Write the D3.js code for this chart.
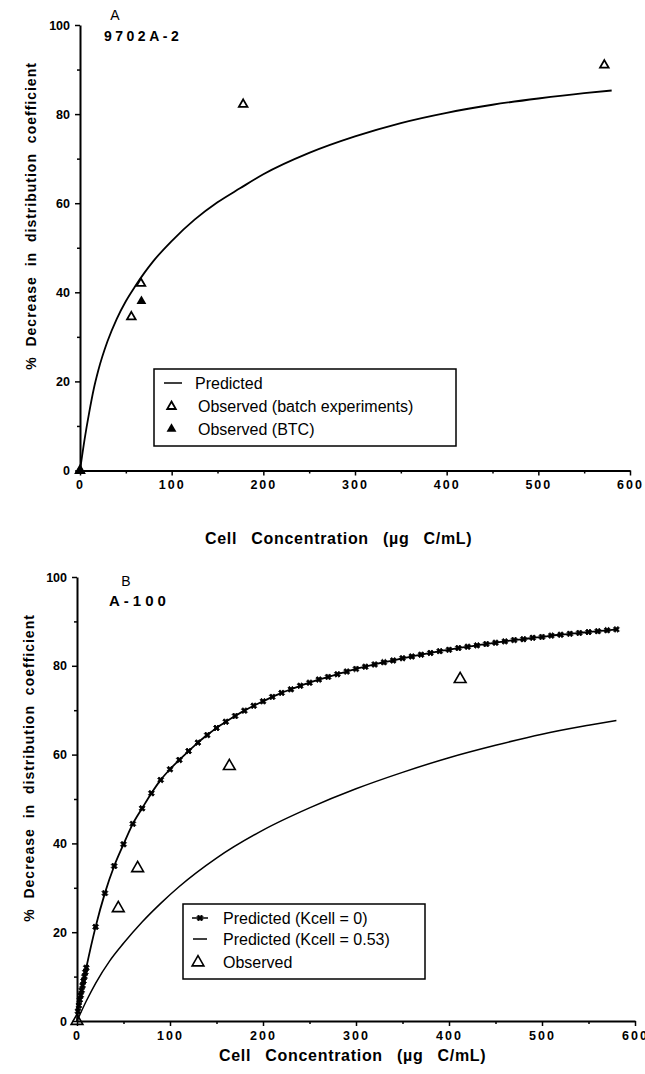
<!DOCTYPE html>
<html>
<head>
<meta charset="utf-8">
<script src="https://cdn.jsdelivr.net/npm/d3@7"></script>
<style>
  body { margin: 0; background: #fff; }
  svg { font-family: "Liberation Sans", Arial, Helvetica, sans-serif; }
</style>
</head>
<body>
<svg id="chart" width="645" height="1074"></svg>
<script>
// ---- data ----

// panel A : 9702A-2
var aPredX = [0, 5, 10, 15, 20, 30, 40, 50, 60, 70, 80, 100, 125, 150, 175, 200, 250, 300, 350, 400, 450, 500, 550, 580];
var aPredY = [0, 7, 13, 18.3, 22.5, 29, 34, 38, 41.3, 44.3, 47, 51.5, 56.3, 60.2, 63.4, 66.5, 71.3, 75, 78, 80.3, 82.1, 83.5, 84.7, 85.3];
var aBatchX = [0, 56, 66.5, 178, 572];
var aBatchY = [0, 34.5, 42, 82.2, 91];
var aBtcX = [0, 67];
var aBtcY = [0, 38];

// panel B : A-100
var bK0X = [1, 2, 3, 4, 5, 6, 7, 8, 9, 10,
            20, 30, 40, 50, 60, 70, 80, 90, 100, 110, 120, 130, 140, 150, 160, 170, 180, 190, 200,
            210, 220, 230, 240, 250, 260, 270, 280, 290, 300, 310, 320, 330, 340, 350, 360, 370, 380, 390, 400,
            410, 420, 430, 440, 450, 460, 470, 480, 490, 500, 510, 520, 530, 540, 550, 560, 570, 580];
var bK0Y = [2.2, 3.5, 4.8, 5.8, 6.9, 8, 9, 10, 11, 12,
            21.2, 28.8, 34.9, 39.8, 44.4, 47.9, 51.3, 54.3, 56.7, 58.8, 60.8, 62.7, 64.4, 66, 67.4, 68.7, 69.9, 71, 72,
            73, 73.9, 74.7, 75.5, 76.2, 76.9, 77.5, 78.1, 78.7, 79.3, 79.8, 80.3, 80.8, 81.2, 81.7, 82.1, 82.5, 82.9, 83.3, 83.6,
            84, 84.3, 84.6, 84.9, 85.2, 85.5, 85.8, 86, 86.3, 86.5, 86.8, 87, 87.2, 87.4, 87.6, 87.8, 88, 88.2];
var bK53X = [0, 10, 20, 35, 50, 70, 90, 110, 150, 200, 250, 300, 350, 400, 450, 500, 550, 580];
var bK53Y = [0, 4.5, 8.5, 13.5, 17.5, 22.3, 26.5, 30.3, 36.7, 43, 48, 52.3, 56, 59.3, 62.1, 64.6, 66.6, 67.7];
var bObsX = [0, 44.4, 65.2, 163.8, 412];
var bObsY = [0, 25.4, 34.4, 57.4, 77];

var yTicks = [0, 20, 40, 60, 80, 100];
var yMinor = [10, 30, 50, 70, 90];
var xTicks = [0, 100, 200, 300, 400, 500, 600];
var xMinor = [50, 150, 250, 350, 450, 550];

var yTitle = "% Decrease in distribution coefficient";
var xTitle = "Cell Concentration (\u00b5g C/mL)";

function zip(xs, ys) {
    return xs.map(function(v, i) { return [v, ys[i]]; });
}

var svg = d3.select("#chart");

function triPath(size) {
    return d3.symbol().type(d3.symbolTriangle).size(size)();
}

function makePanel(p) {
    var g = svg.append("g");
    var x = d3.scaleLinear().domain([0, 600]).range([p.x0, p.x1]);
    var y = d3.scaleLinear().domain([0, 100]).range([p.y0, p.y1]);

    // axes
    var ay = g.append("g").attr("transform", "translate(" + p.x0 + ",0)")
        .call(d3.axisLeft(y).tickValues(yTicks).tickSize(5).tickSizeOuter(0).tickPadding(5));
    g.append("g").attr("transform", "translate(" + p.x0 + ",0)")
        .call(d3.axisLeft(y).tickValues(yMinor).tickSize(3).tickFormat(""))
        .select(".domain").remove();
    var ax = g.append("g").attr("transform", "translate(0," + p.y0 + ")")
        .call(d3.axisBottom(x).tickValues(xTicks).tickSize(5).tickSizeOuter(0).tickPadding(5));
    g.append("g").attr("transform", "translate(0," + p.y0 + ")")
        .call(d3.axisBottom(x).tickValues(xMinor).tickSize(3).tickFormat(""))
        .select(".domain").remove();

    g.selectAll(".domain").attr("stroke", "#000").attr("stroke-width", 2);
    g.selectAll(".tick line").attr("stroke", "#000").attr("stroke-width", 1.5);
    ay.selectAll("text").attr("font-size", 12.5).attr("font-weight", "bold").attr("fill", "#000");
    ax.selectAll("text").attr("font-size", 12.5).attr("font-weight", "bold").attr("fill", "#000")
        .attr("letter-spacing", "2px");

    // axis titles
    g.append("text")
        .attr("transform", "translate(" + p.ytx + "," + p.yty + ") rotate(-90)")
        .attr("text-anchor", "middle")
        .attr("font-size", 14).attr("font-weight", "bold")
        .attr("letter-spacing", "1px").attr("word-spacing", "5px")
        .text(yTitle);
    g.append("text")
        .attr("x", p.xtx).attr("y", p.xty)
        .attr("font-size", 16).attr("font-weight", "bold")
        .attr("letter-spacing", "0.7px").attr("word-spacing", "9px")
        .text(xTitle);

    // panel letters
    g.append("text").attr("x", p.letter[0]).attr("y", p.letter[1])
        .attr("text-anchor", "middle").attr("font-size", 14).text(p.letter[2]);
    g.append("text").attr("x", p.name[0]).attr("y", p.name[1])
        .attr("font-size", p.name[3]).attr("font-weight", "bold")
        .attr("letter-spacing", p.name[4]).text(p.name[2]);

    return {g: g, x: x, y: y};
}

// ---------- panel A ----------
var A = makePanel({
    x0: 80, x1: 630, y0: 470.5, y1: 25,
    ytx: 36, yty: 216, xtx: 205, xty: 544,
    letter: [115, 20, "A"],
    name: [104, 41, "9702A-2", 14, "3.5px"]
});

var line = d3.line().curve(d3.curveMonotoneX);

A.g.append("path")
    .attr("d", line(zip(aPredX, aPredY).map(function(d) { return [A.x(d[0]), A.y(d[1])]; })))
    .attr("fill", "none").attr("stroke", "#000").attr("stroke-width", 1.8);

A.g.selectAll(".batch").data(zip(aBatchX, aBatchY)).enter().append("path")
    .attr("d", triPath(32))
    .attr("transform", function(d) { return "translate(" + A.x(d[0]) + "," + A.y(d[1]) + ")"; })
    .attr("fill", "#fff").attr("stroke", "#000").attr("stroke-width", 1.8);

A.g.selectAll(".btc").data(zip(aBtcX, aBtcY)).enter().append("path")
    .attr("d", triPath(42))
    .attr("transform", function(d) { return "translate(" + A.x(d[0]) + "," + A.y(d[1]) + ")"; })
    .attr("fill", "#000");

// legend A
var legA = A.g.append("g");
legA.append("rect").attr("x", 154).attr("y", 369).attr("width", 302).attr("height", 77)
    .attr("fill", "#fff").attr("stroke", "#000").attr("stroke-width", 1.5);
legA.append("line").attr("x1", 164).attr("x2", 182).attr("y1", 383).attr("y2", 383)
    .attr("stroke", "#000").attr("stroke-width", 1.5);
legA.append("path").attr("d", triPath(32)).attr("transform", "translate(171.5,406.5)")
    .attr("fill", "#fff").attr("stroke", "#000").attr("stroke-width", 1.8);
legA.append("path").attr("d", triPath(42)).attr("transform", "translate(171.5,429)")
    .attr("fill", "#000");
legA.selectAll("text").data(["Predicted", "Observed (batch experiments)", "Observed (BTC)"])
    .enter().append("text")
    .attr("x", function(d, i) { return i === 0 ? 195 : 198; })
    .attr("y", function(d, i) { return [389, 412, 435][i]; })
    .attr("font-size", 16)
    .text(function(d) { return d; });

// ---------- panel B ----------
var B = makePanel({
    x0: 77, x1: 635, y0: 1021, y1: 577,
    ytx: 34, yty: 768, xtx: 219, xty: 1061,
    letter: [126, 586, "B"],
    name: [109, 606, "A-100", 15, "4px"]
});

B.g.append("path")
    .attr("d", line([[0, 0]].concat(zip(bK0X, bK0Y)).map(function(d) { return [B.x(d[0]), B.y(d[1])]; })))
    .attr("fill", "none").attr("stroke", "#000").attr("stroke-width", 1.8);

var crossSym = d3.symbol().type(d3.symbolCross).size(22)();
B.g.selectAll(".k0").data(zip(bK0X, bK0Y)).enter().append("path")
    .attr("d", crossSym)
    .attr("transform", function(d) { return "translate(" + B.x(d[0]) + "," + B.y(d[1]) + ") rotate(45)"; })
    .attr("fill", "#000").attr("stroke", "#000").attr("stroke-width", 0.8);

B.g.append("path")
    .attr("d", line(zip(bK53X, bK53Y).map(function(d) { return [B.x(d[0]), B.y(d[1])]; })))
    .attr("fill", "none").attr("stroke", "#000").attr("stroke-width", 1.5);

B.g.selectAll(".obs").data(zip(bObsX, bObsY)).enter().append("path")
    .attr("d", triPath(60))
    .attr("transform", function(d) { return "translate(" + B.x(d[0]) + "," + B.y(d[1]) + ")"; })
    .attr("fill", "none").attr("stroke", "#000").attr("stroke-width", 1.6);

// legend B
var legB = B.g.append("g");
legB.append("rect").attr("x", 183).attr("y", 904).attr("width", 242).attr("height", 75)
    .attr("fill", "#fff").attr("stroke", "#000").attr("stroke-width", 1.5);
legB.append("line").attr("x1", 192).attr("x2", 208).attr("y1", 918).attr("y2", 918)
    .attr("stroke", "#000").attr("stroke-width", 1.5);
legB.append("path").attr("d", crossSym).attr("transform", "translate(200,918) rotate(45)")
    .attr("fill", "#000").attr("stroke", "#000").attr("stroke-width", 0.8);
legB.append("line").attr("x1", 193).attr("x2", 207).attr("y1", 939).attr("y2", 939)
    .attr("stroke", "#000").attr("stroke-width", 1.5);
legB.append("path").attr("d", triPath(60)).attr("transform", "translate(198,962.5)")
    .attr("fill", "none").attr("stroke", "#000").attr("stroke-width", 1.6);
legB.selectAll("text").data(["Predicted (Kcell = 0)", "Predicted (Kcell = 0.53)", "Observed"])
    .enter().append("text")
    .attr("x", 223)
    .attr("y", function(d, i) { return [924, 945, 968][i]; })
    .attr("font-size", 16)
    .text(function(d) { return d; });
</script>
</body>
</html>
